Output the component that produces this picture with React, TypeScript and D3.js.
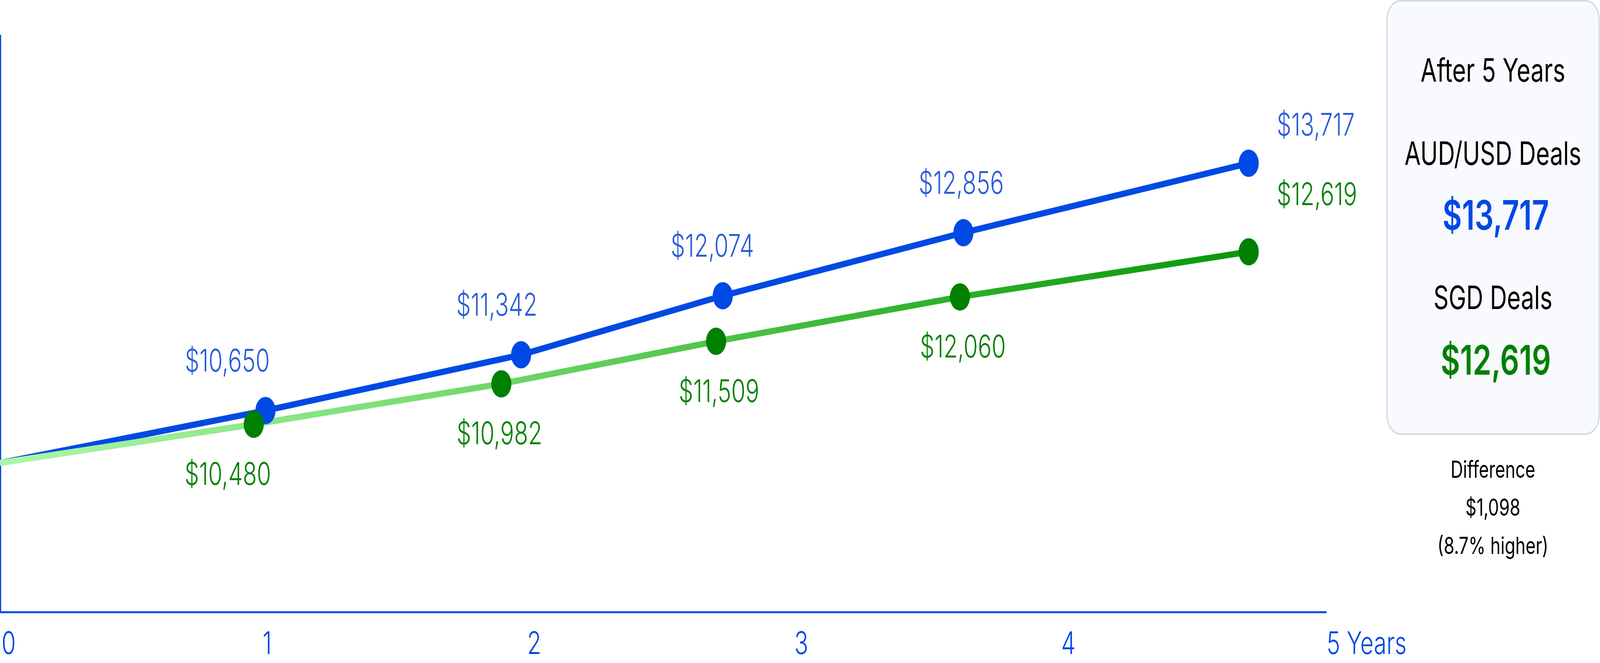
import React from 'react';
import * as d3 from 'd3';

// values
const yearTicks = [0, 1, 2, 3, 4, 5];
const audYears = [0, 0.994, 1.951, 2.706, 3.607, 4.675];
const audValues = [10000, 10650, 11342, 12074, 12856, 13717];
const sgdYears = [0, 0.95, 1.877, 2.681, 3.594, 4.675];
const sgdValues = [10000, 10480, 10982, 11509, 12060, 12619];
// where each value label sits along the year axis
const audLabelYears = [0.851, 1.86, 2.667, 3.599, 4.78];
const sgdLabelYears = [0.853, 1.87, 2.692, 3.605, 4.78];

const W = 5559;
const H = 1697;
const BLUE = '#0049e4';
const BLUE_LABEL = '#2b5cd8';
const GREEN = '#008000';
const FONT = 'Inter, "Noto Sans", sans-serif';

const fmt = (v: number) => '$' + d3.format(',')(v);

export default function App() {
  const x = d3.scaleLinear().domain([0, 5]).range([0, 4640]);
  const y = d3.scaleLinear().domain([8150, 15310]).range([1567, 89]);

  const line = d3
    .line<[number, number]>()
    .x(d => x(d[0]))
    .y(d => y(d[1]));

  const aud = audYears.map((t, i) => [t, audValues[i]] as [number, number]);
  const sgd = sgdYears.map((t, i) => [t, sgdValues[i]] as [number, number]);

  const audFinal = audValues[audValues.length - 1];
  const sgdFinal = sgdValues[sgdValues.length - 1];
  const diff = audFinal - sgdFinal;
  const pct = (diff / sgdFinal) * 100;

  const panelX = 5187;

  return (
    <svg
      viewBox={`0 0 ${W} ${H}`}
      preserveAspectRatio="none"
      style={{ position: 'fixed', left: 0, top: 0, width: '100vw', height: '100vh', background: '#fff' }}
      fontFamily={FONT}
    >
      <defs>
        <linearGradient id="sgdGrad" gradientUnits="userSpaceOnUse" x1={x(0)} x2={x(4.675)} y1={0} y2={0}>
          <stop offset="0%" stopColor="#adf7a8" />
          <stop offset="35%" stopColor="#78dc72" />
          <stop offset="70%" stopColor="#36b633" />
          <stop offset="100%" stopColor="#07980a" />
        </linearGradient>
      </defs>

      {/* axes */}
      <line x1={2} x2={2} y1={y.range()[1]} y2={y.range()[0]} stroke={BLUE} strokeWidth={4} />
      <line x1={0} x2={4609} y1={y.range()[0]} y2={y.range()[0]} stroke={BLUE} strokeWidth={5} />
      {yearTicks.map(t => {
        const last = t === yearTicks[yearTicks.length - 1];
        const px = t === 0 ? x(t) + 30 : last ? x(t) - 31 : x(t);
        return (
          <text
            key={t}
            x={px}
            y={1674}
            fill={BLUE}
            fontSize={80}
            fontWeight={300}
            textAnchor={last ? 'start' : 'middle'}
          >
            {last ? `${t} Years` : t}
          </text>
        );
      })}

      {/* lines */}
      <path d={line(aud) || ''} fill="none" stroke={BLUE} strokeWidth={16} strokeLinejoin="round" />
      <path d={line(sgd) || ''} fill="none" stroke="url(#sgdGrad)" strokeWidth={16} strokeLinejoin="round" />

      {/* points */}
      {aud.slice(1).map((d, i) => (
        <circle key={'a' + i} cx={x(d[0])} cy={y(d[1])} r={35} fill={BLUE} />
      ))}
      {sgd.slice(1).map((d, i) => (
        <circle key={'s' + i} cx={x(d[0])} cy={y(d[1])} r={35} fill={GREEN} />
      ))}

      {/* value labels */}
      {audValues.slice(1).map((v, i, arr) => {
        const last = i === arr.length - 1;
        return (
          <text
            key={'al' + i}
            x={x(audLabelYears[i])}
            y={y(v) + (last ? -71 : -100)}
            fill={BLUE_LABEL}
            fontSize={80}
            fontWeight={300}
            textAnchor={last ? 'start' : 'middle'}
          >
            {fmt(v)}
          </text>
        );
      })}
      {sgdValues.slice(1).map((v, i, arr) => {
        const last = i === arr.length - 1;
        return (
          <text
            key={'sl' + i}
            x={x(sgdLabelYears[i])}
            y={y(v) + (last ? -119 : 155)}
            fill={GREEN}
            fontSize={80}
            fontWeight={300}
            textAnchor={last ? 'start' : 'middle'}
          >
            {fmt(v)}
          </text>
        );
      })}

      {/* summary panel */}
      <rect x={4819} y={2} width={737} height={1109} rx={48} fill="#f8fafe" stroke="#cfd9e6" strokeWidth={4} />
      <g textAnchor="middle">
        <text x={panelX} y={209} fontSize={82} fill="#000">After 5 Years</text>
        <text x={panelX} y={422} fontSize={82} fill="#000">AUD/USD Deals</text>
        <text x={panelX + 10} y={588} fontSize={104} fontWeight={600} fill={BLUE}>{fmt(audFinal)}</text>
        <text x={panelX} y={791} fontSize={82} fill="#000">SGD Deals</text>
        <text x={panelX + 10} y={959} fontSize={104} fontWeight={600} fill={GREEN}>{fmt(sgdFinal)}</text>
        <text x={panelX} y={1223} fontSize={60} fill="#000">Difference</text>
        <text x={panelX} y={1320} fontSize={60} fill="#000">{fmt(diff)}</text>
        <text x={panelX} y={1418} fontSize={60} fill="#000">({pct.toFixed(1)}% higher)</text>
      </g>
    </svg>
  );
}
